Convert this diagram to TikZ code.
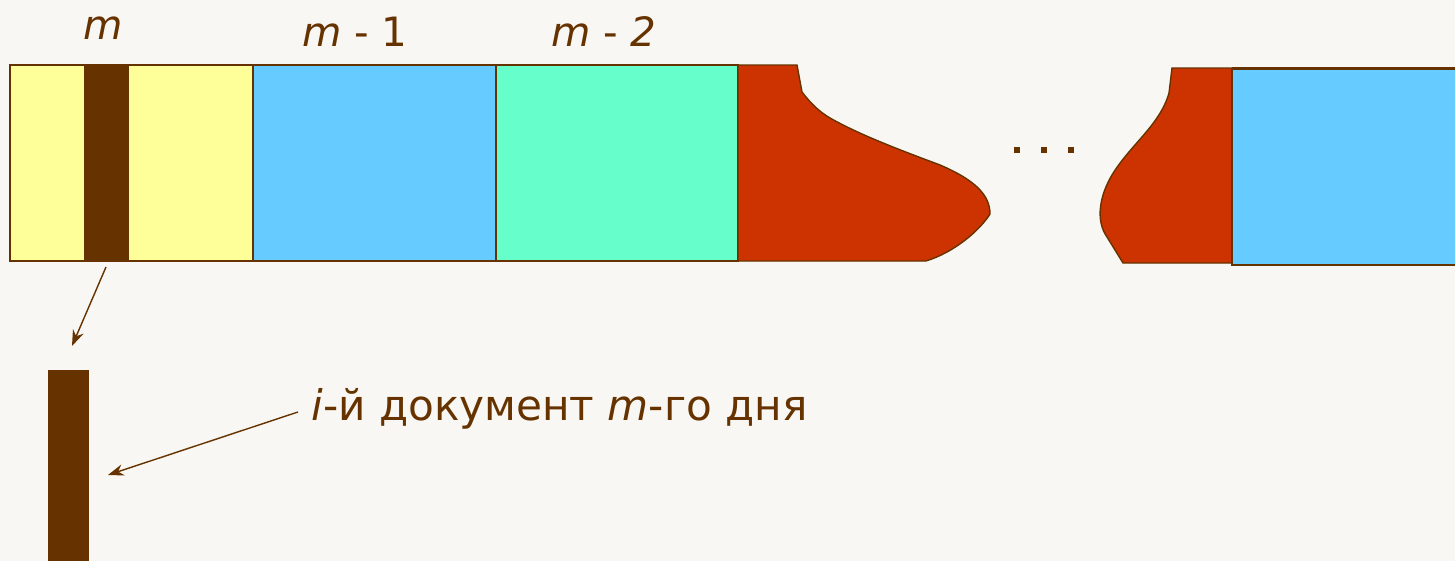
\documentclass[tikz,border=0pt]{standalone}
\usepackage{fontspec}
\setmainfont{DejaVu Sans}
\usetikzlibrary{arrows.meta}
\definecolor{brn}{HTML}{663300}
\definecolor{yel}{HTML}{FFFF99}
\definecolor{blu}{HTML}{66CCFF}
\definecolor{grn}{HTML}{66FFCC}
\definecolor{rd}{HTML}{CC3300}
\definecolor{bg}{HTML}{F8F7F3}
\tikzset{
  cell/.style={draw=brn, line width=0.8pt},
  lbl/.style={text=brn, font=\fontsize{23}{26}\selectfont, inner sep=0pt},
  txt/.style={text=brn, font=\fontsize{24}{28}\selectfont, inner sep=0pt},
  arr/.style={draw=brn, line width=0.8pt, -{Stealth[length=9pt,width=6.5pt]}},
  dot/.style={fill=brn, draw=none, minimum size=3pt, inner sep=0pt, rectangle}
}
\begin{document}
\begin{tikzpicture}[x=0.02cm,y=-0.02cm]
\fill[bg] (0,0) rectangle (1455,561);
\useasboundingbox (0,0) rectangle (1455,561);
% cells
\draw[cell, fill=yel] (10,65) rectangle (253,261);
\fill[brn] (84,64) rectangle (129,261);
\draw[cell, fill=blu] (253,65) rectangle (496,261);
\draw[cell, fill=grn] (496,65) rectangle (738,261);
% left torn red piece
\draw[cell, fill=rd] (738,65) -- (797,65) -- (802,92)
  .. controls (812,105) and (820,112) .. (830,118)
  .. controls (860,135) and (900,150) .. (940,165)
  .. controls (975,180) and (990,195) .. (990,214)
  .. controls (980,230) and (955,252) .. (926,261) -- (738,261) -- cycle;
% right torn red piece
\draw[cell, fill=rd] (1232,68) -- (1172,68) -- (1169,93)
  .. controls (1160,125) and (1130,145) .. (1112,175)
  .. controls (1100,195) and (1095,220) .. (1107,237)
  -- (1123,263) -- (1232,263) -- cycle;
\draw[cell, fill=blu] (1232,69) rectangle (1460,265);
\draw[brn, line width=0.8pt] (1232,68) -- (1460,68);
% dots
\node[dot] (d1) at (1017,150) {};
\node[dot] (d2) at (1044,150) {};
\node[dot] (d3) at (1071,150) {};
% labels
\node[lbl] (lm) at (103,28) {\textit{m}};
\node[lbl] (lm1) at (355,32) {\textit{m} - 1};
\node[lbl] (lm2) at (604,32) {\textit{m} - \textit{2}};
% document bar
\fill[brn] (48,370) rectangle (89,561);
\coordinate (s1) at (106,267);
\coordinate (t1) at (72,346);
\draw[arr] (s1) -- (t1);
\node[txt, anchor=base west] (doc) at (311,420) {\textit{i}-й документ \textit{m}-го дня};
\coordinate (s2) at (298,412);
\coordinate (t2) at (108,475);
\draw[arr] (s2) -- (t2);
\end{tikzpicture}
\end{document}
